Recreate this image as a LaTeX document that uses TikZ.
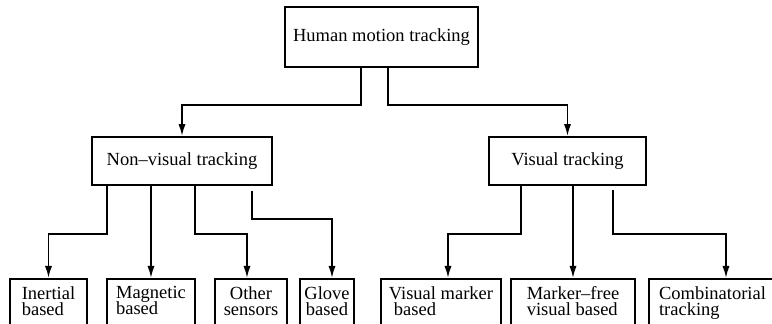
\documentclass[tikz,border=0pt]{standalone}
\usepackage{fontspec}
\setmainfont{Liberation Serif}
\usetikzlibrary{arrows.meta}
\usetikzlibrary{positioning}
\lineskiplimit=-10pt\relax
\tikzset{box/.style = {draw, line width = 0.9pt, inner sep = 0, align = center, font = \fontsize{9.25}{8}\selectfont}}
\tikzset{leaf/.style = {box, anchor = north, align = left, inner ysep = 3.7pt, text depth = 10pt}}
\tikzset{arr/.style = {line width = 0.9pt, -{Latex[length = 6pt, width = 3.6pt]}}}

\begin{document}
\begin{tikzpicture}[x = 0.5pt, y = -0.5pt]
      \clip (0, 0) rectangle (772, 324);
      \node [box, minimum width = 96.5pt, minimum height = 30pt] (top) at (381.5, 37) {Human motion tracking};
      \node [box, minimum width = 90pt, minimum height = 24pt] (nonvis) at (182, 161) {Non\textendash visual tracking};
      \node [box, minimum width = 78.5pt, minimum height = 24pt] (vis) at (567.5, 161) {Visual tracking};
      \node [leaf, minimum width = 38.5pt] (inertial) at (48.5, 278) {Inertial\\based};
      \node [leaf, minimum width = 44pt] (magnetic) at (151, 278) {Magnetic\\based};
      \node [leaf, minimum width = 36pt, align = center] (other) at (251, 278) {Other\\sensors};
      \node [leaf, minimum width = 27pt, align = center] (glove) at (327, 278) {Glove\\based};
      \node [leaf, minimum width = 60pt] (vmarker) at (441, 278) {Visual marker\\\hspace*{2.5pt}based};
      \node [leaf, minimum width = 62pt] (mfree) at (573, 278) {Marker\textendash free\\visual based};
      \node [leaf, minimum width = 63.5pt] (comb) at (712.5, 278) {Combinatorial\\tracking};
      \draw [arr] (top.south) ++(-20.5, 0) -- ++(0, 37) -| (nonvis.north);
      \draw [arr] (top.south) ++(6.5, 0) -- ++(0, 37) -| (vis.north);
      \draw [arr] (nonvis.south) ++(-75, 0) -- ++(0, 48) -| (inertial.north);
      \draw [arr] (nonvis.south) ++(-31, 0) -- (magnetic.north);
      \draw [arr] (nonvis.south) ++(13, 0) -- ++(0, 48) -| ([xshift = -2pt]other.north);
      \draw [arr] (nonvis.south) ++(70, 5) -- ++(0, 28) -| ([xshift = 2.5pt]glove.north);
      \draw [arr] (vis.south) ++(-46.5, 0) -- ++(0, 48) -| ([xshift = 3.5pt]vmarker.north);
      \draw [arr] (vis.south) ++(5.5, 0) -- (mfree.north);
      \draw [arr] (vis.south) ++(45.5, 4) -- ++(0, 44) -| ([xshift = 6.75pt]comb.north);
    \end{tikzpicture}
\end{document}
